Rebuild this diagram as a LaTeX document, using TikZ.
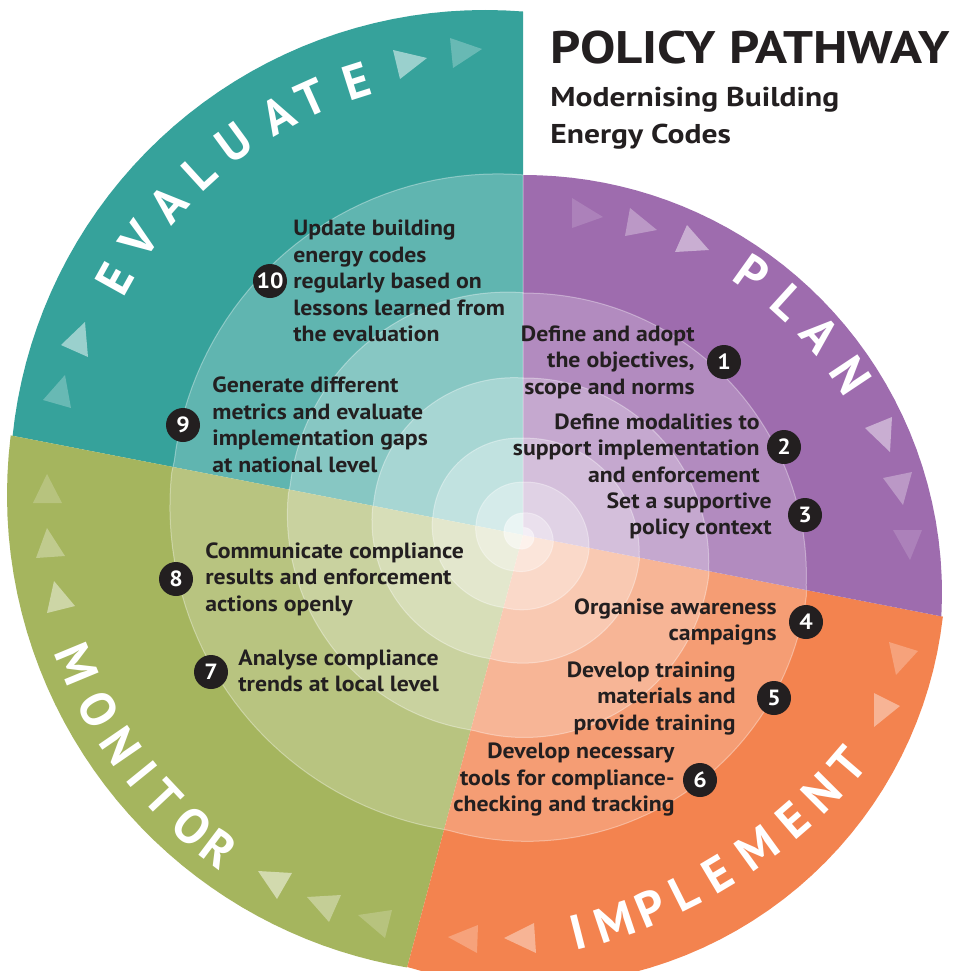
\documentclass[tikz,border=0pt]{standalone}
\usepackage{fontspec}
\setmainfont{PT Sans}[FakeStretch=1.08]
\newfontfamily\titlefont{PT Sans}[FakeStretch=1.16]
\newfontfamily\labelfont{PT Sans}
\usetikzlibrary{calc}
\definecolor{evalcol}{RGB}{54,162,155}
\definecolor{plancol}{RGB}{158,108,174}
\definecolor{implcol}{RGB}{243,131,79}
\definecolor{moncol}{RGB}{165,181,94}
\definecolor{inkcol}{RGB}{35,31,32}

\begin{document}
\begin{tikzpicture}[x=0.5pt,y=0.5pt,
  declare function={
    rhoP(\p)=100*(0.58*cos(\p+89)+sqrt(17.4724-(0.58*sin(\p+89))^2));
    rhoO(\p)=100*(0.357*cos(\p+78.7)+sqrt(17.264-(0.357*sin(\p+78.7))^2));
    rhoG(\p)=100*(0.545*cos(\p-132.8)+sqrt(22.944-(0.545*sin(\p-132.8))^2));
    rhoT(\p)=100*(0.628*cos(\p-127.2)+sqrt(22.5625-(0.628*sin(\p-127.2))^2));
    rhoall(\p)=(\p>-11) ? rhoP(\p) : ((\p>-105) ? rhoO(\p) : ((\p>-191) ? rhoG(\p) : rhoT(\p)));
    ringr(\p,\fa,\fb)=(\fa+(\fb-\fa)*(90-\p)/360)*rhoall(\p);
  },
  step node/.style={inner sep=0pt,text=inkcol,font=\fontsize{11}{13.25}\selectfont\bfseries},
  badge node/.style={circle,fill=inkcol,text=white,inner sep=0pt,minimum size=17pt,
    font=\fontsize{11}{12}\selectfont\bfseries},
  ring/.style={fill=white,draw=white,draw opacity=0.35,line width=0.5pt},
  sector label/.style={text=white,inner sep=0pt,font=\labelfont\fontsize{24.5}{24.5}\selectfont\bfseries},
  title node/.style={anchor=base west,inner sep=0pt,text=inkcol}]

  \fill[white] (0,0) rectangle (960,-971);
  \useasboundingbox (0,0) rectangle (960,-971);

  % the four coloured sectors and the light spiral rings
  \begin{scope}[shift={(523,-535)}]
    \fill[evalcol] (0,0) -- plot[domain=90:169,samples=40,variable=\t] (\t:{rhoT(\t)}) -- cycle;
    \fill[moncol] (0,0) -- plot[domain=169:255,samples=40,variable=\t] (\t:{rhoG(\t)}) -- cycle;
    \fill[implcol] (0,0) -- plot[domain=255:349,samples=40,variable=\t] (\t:{rhoO(\t)}) -- cycle;
    \fill[plancol] (0,0) -- plot[domain=-11:90,samples=40,variable=\t] (\t:{rhoP(\t)}) -- cycle;
    \foreach \ra/\rb/\op in {0.672/0.688/0.21,0.436/0.463/0.25,0.269/0.300/0.27,
                             0.147/0.185/0.30,0.061/0.101/0.33,0.02/0.042/0.5}
      \path[ring,fill opacity=\op] plot[domain=90:-270,samples=181,variable=\t]
        (\t:{ringr(\t,\ra,\rb)}) -- cycle;
  \end{scope}

  % arrow marks along the outer band
  \foreach \ax/\ay/\bx/\by/\cx/\cy/\op in {
      393/50/427/58/400/79/0.5, 450/38/482/49/453/68/0.25,
      85/322/61/345/88/357/0.5, 65/375/43/400/71/408/0.25,
      572/198/603/217/572/228/0.15, 630/208/657/230/625/236/0.3, 687/225/709/250/675/252/0.45,
      865/428/892/417/890/452/0.45, 883/478/912/472/903/505/0.3, 893/530/922/530/910/560/0.15,
      889/642/918/651/896/675/0.25, 874/693/900/706/874/727/0.4,
      448/937/478/925/477/953/0.25, 504/938/534/923/536/953/0.4,
      47/474/33/503/62/503/0.2, 47/528/36/558/65/556/0.3, 54/581/47/613/75/606/0.45,
      258/871/292/873/277/899/0.5, 307/897/341/895/329/922/0.35, 358/915/392/910/385/938/0.2}
    \fill[white,fill opacity=\op] (\ax,-\ay) -- (\bx,-\by) -- (\cx,-\cy) -- cycle;

  % sector names
  \foreach \ch/\ang [count=\i] in {E/150.9,V/144.6,A/138.4,L/132.4,U/126.3,A/119.3,T/114.2,E/107.6}
    \node[sector label,rotate=\ang-90] (ev\i) at ($(485,-485)+(\ang:424)$) {\ch};
  \foreach \ch/\ang [count=\i] in {P/54.5,L/47.8,A/41.1,N/33.7}
    \node[sector label,rotate=\ang-90] (pl\i) at ($(524,-593)+(\ang:393)$) {\ch};
  \foreach \ch/\ang [count=\i] in {I/-75.7,M/-71.5,P/-67.3,L/-63.4,E/-59.2,M/-54.1,E/-49.2,N/-44.9,T/-40.7}
    \node[sector label,rotate=\ang+90] (im\i) at ($(447,-420)+(\ang:529)$) {\ch};
  \foreach \ch/\ang [count=\i] in {M/202.5,O/208.9,N/214.5,I/219.1,T/223.2,O/228.4,R/232.9}
    \node[sector label,rotate=\ang+90] (mo\i) at ($(486,-495)+(\ang:443)$) {\ch};

  % steps
  \node[step node,anchor=east,align=right] (s1) at (695,-362) {Define and adopt\\the objectives,\\scope and norms};
  \node[badge node] (b1) at (724,-362) {1};
  \node[step node,anchor=east,align=right] (s2) at (760,-448) {Define modalities to\\support implementation\\and enforcement};
  \node[badge node] (b2) at (784,-447) {2};
  \node[step node,anchor=east,align=right] (s3) at (772,-516) {Set a supportive\\policy context};
  \node[badge node] (b3) at (805,-515) {3};
  \node[step node,anchor=east,align=right] (s4) at (777,-622) {Organise awareness\\campaigns};
  \node[badge node] (b4) at (806,-622) {4};
  \node[step node,anchor=east,align=right] (s5) at (736,-698) {Develop training\\materials and\\provide training};
  \node[badge node] (b5) at (774,-698) {5};
  \node[step node,anchor=east,align=right] (s6) at (675,-780) {Develop necessary\\tools for compliance-\\checking and tracking};
  \node[badge node] (b6) at (700,-780) {6};
  \node[step node,anchor=west,align=left] (s7) at (238,-671) {Analyse compliance\\trends at local level};
  \node[badge node] (b7) at (211,-672) {7};
  \node[step node,anchor=west,align=left] (s8) at (205,-579) {Communicate compliance\\results and enforcement\\actions openly};
  \node[badge node] (b8) at (176,-579) {8};
  \node[step node,anchor=west,align=left] (s9) at (212,-425) {Generate different\\metrics and evaluate\\implementation gaps\\at national level};
  \node[badge node] (b9) at (183,-425) {9};
  \node[step node,anchor=west,align=left] (s10) at (293,-281) {Update building\\energy codes\\regularly based on\\lessons learned from\\the evaluation};
  \node[badge node] (b10) at (270,-281) {10};

  % title
  \node[title node,font=\titlefont\fontsize{22.8}{24}\selectfont\bfseries] (title) at (550,-63) {POLICY PATHWAY};
  \node[title node,font=\titlefont\fontsize{13.6}{15}\selectfont\bfseries] (sub1) at (550,-106) {Modernising Building};
  \node[title node,font=\titlefont\fontsize{13.6}{15}\selectfont\bfseries] (sub2) at ($(sub1.base west)+(0,-37)$) {Energy Codes};
\end{tikzpicture}
\end{document}
